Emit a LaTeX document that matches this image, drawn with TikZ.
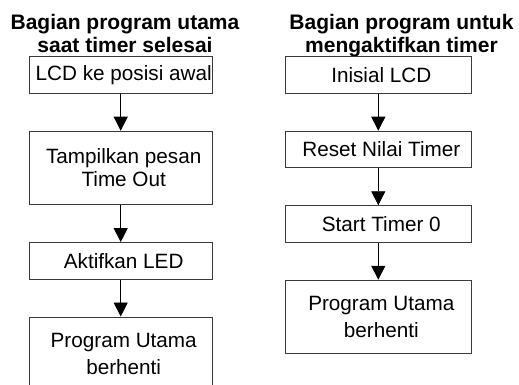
\documentclass[tikz,border=0pt]{standalone}
\usepackage{fontspec}
\setmainfont{Liberation Sans}
\usetikzlibrary{arrows.meta, positioning}
\definecolor{fcline}{HTML}{3A3A3A}
\newcommand{\indt}{\hspace*{6pt}}

\begin{document}
\begin{tikzpicture}[x=1pt, y=1pt,
    proc/.style={rectangle, draw=fcline, line width=0.8pt, minimum width=#1, minimum height=36.7pt, inner sep=0pt, align=center, font=\fontsize{20.7}{23}\selectfont},
    proc/.default=183.3pt,
    tall/.style={minimum height=73.5pt},
    wide/.style={font=\fontsize{20.7}{27}\selectfont},
    judul/.style={align=center, font=\bfseries\fontsize{21}{23}\selectfont},
    flow/.style={-{Triangle[width=14pt,length=14pt]}, line width=0.8pt},
    node distance=37pt
]
\clip (0,0) rectangle (519,-385);

% bagian program utama (kiri)
\node[judul, anchor=base] (judulA) at (125,-53) {Bagian program utama\\saat timer selesai};
\node[proc] (lcd) at (120.7,-75) {\indt LCD ke posisi awal};
\node[proc, tall, below=of lcd] (tampil) {\indt Tampilkan pesan\\\indt Time Out};
\node[proc, below=of tampil] (led) {\indt Aktifkan LED};
\node[proc, tall, wide, below=of led] (hentiA) {\indt Program Utama\\\indt berhenti};

\draw[flow] (lcd) -- (tampil);
\draw[flow] (tampil) -- (led);
\draw[flow] (led) -- (hentiA);

% bagian program untuk timer (kanan)
\node[judul, anchor=base] (judulB) at (401.5,-53) {Bagian program untuk\\mengaktifkan timer};
\node[proc=185.3pt] (inisial) at (378.3,-75) {\indt Inisial LCD};
\node[proc=185.3pt, below=of inisial] (reset) {\indt Reset Nilai Timer};
\node[proc=185.3pt, below=of reset] (start) {\indt Start Timer 0};
\node[proc=185.3pt, tall, wide, below=of start] (hentiB) {\indt Program Utama\\\indt berhenti};

\draw[flow] (inisial) -- (reset);
\draw[flow] (reset) -- (start);
\draw[flow] (start) -- (hentiB);
\end{tikzpicture}
\end{document}
